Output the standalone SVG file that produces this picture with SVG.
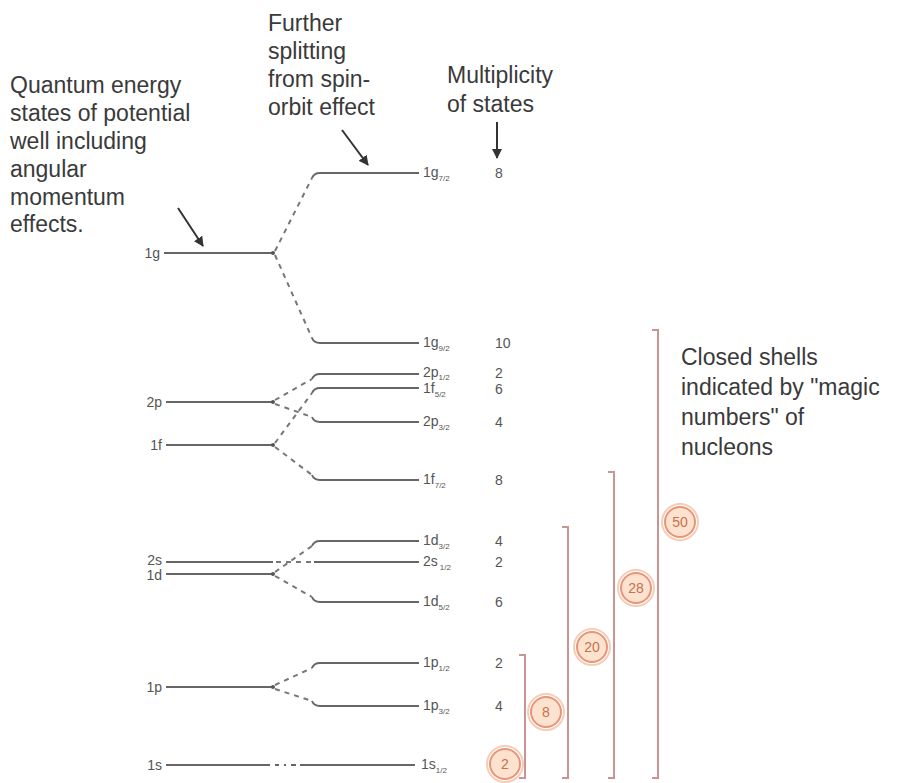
<svg xmlns="http://www.w3.org/2000/svg" width="904" height="783" viewBox="0 0 904 783">
  <style>
    .note { font-family: "Liberation Sans", Arial, sans-serif; font-size: 23px; fill: #3a3a3a; }
    .lbl { font-family: "Liberation Sans", Arial, sans-serif; font-size: 14px; fill: #555; }
    .sub { font-size: 8px; }
    .mult { font-family: "Liberation Sans", Arial, sans-serif; font-size: 14px; fill: #555; }
    .lvl { stroke: #666; stroke-width: 2; fill: none; }
    .end { fill: #555; }
    .dash { stroke: #777; stroke-width: 2; stroke-dasharray: 5 5; fill: none; }
    .shell { stroke: #c99494; stroke-width: 2; fill: none; }
    .magic .ring { fill: none; stroke: #f6cdb6; stroke-width: 2; }
    .magic .disc { fill: #fde3cf; stroke: #e6957a; stroke-width: 2; }
    .magic text { font-family: "Liberation Sans", Arial, sans-serif; font-size: 14px; fill: #c4724c; text-anchor: middle; }
    .ptr { stroke: #333; stroke-width: 2; fill: none; marker-end: url(#head); }
  </style>
  <defs>
    <marker id="head" viewBox="0 0 10 10" refX="9" refY="5" markerWidth="5" markerHeight="5" orient="auto">
      <path d="M0 0 L10 5 L0 10 z" fill="#333"/>
    </marker>
  </defs>

  <rect width="904" height="783" fill="#ffffff"/>

  <!-- explanatory notes -->
  <g id="note-left">
    <text class="note" x="10" y="93">Quantum energy</text>
    <text class="note" x="10" y="121">states of potential</text>
    <text class="note" x="10" y="149">well including</text>
    <text class="note" x="10" y="177">angular</text>
    <text class="note" x="10" y="205">momentum</text>
    <text class="note" x="10" y="232">effects.</text>
    <line class="ptr" x1="178" y1="208" x2="203" y2="246"/>
  </g>
  <g id="note-spin">
    <text class="note" x="268" y="31">Further</text>
    <text class="note" x="268" y="59">splitting</text>
    <text class="note" x="268" y="87">from spin-</text>
    <text class="note" x="268" y="115">orbit effect</text>
    <line class="ptr" x1="342" y1="130" x2="368" y2="165"/>
  </g>
  <g id="note-mult">
    <text class="note" x="447" y="83">Multiplicity</text>
    <text class="note" x="447" y="112">of states</text>
    <line class="ptr" x1="497" y1="122" x2="497" y2="158"/>
  </g>
  <g id="note-shells">
    <text class="note" x="681" y="365">Closed shells</text>
    <text class="note" x="681" y="395">indicated by "magic</text>
    <text class="note" x="681" y="425">numbers" of</text>
    <text class="note" x="681" y="455">nucleons</text>
  </g>

  <!-- unsplit levels -->
  <g id="lvl-1g"><text class="lbl" x="160" y="258" text-anchor="end">1g</text><line class="lvl" x1="164" y1="253" x2="273" y2="253"/><circle class="end" cx="273" cy="253" r="2"/></g>
  <g id="lvl-2p"><text class="lbl" x="162" y="407" text-anchor="end">2p</text><line class="lvl" x1="166" y1="402" x2="273" y2="402"/><circle class="end" cx="273" cy="402" r="2"/></g>
  <g id="lvl-1f"><text class="lbl" x="162" y="450" text-anchor="end">1f</text><line class="lvl" x1="166" y1="445" x2="273" y2="445"/><circle class="end" cx="273" cy="445" r="2"/></g>
  <g id="lvl-2s"><text class="lbl" x="162" y="565" text-anchor="end">2s</text><line class="lvl" x1="166" y1="562" x2="273" y2="562"/></g>
  <g id="lvl-1d"><text class="lbl" x="162" y="580" text-anchor="end">1d</text><line class="lvl" x1="166" y1="574" x2="273" y2="574"/><circle class="end" cx="273" cy="574" r="2"/></g>
  <g id="lvl-1p"><text class="lbl" x="162" y="692" text-anchor="end">1p</text><line class="lvl" x1="166" y1="687" x2="273" y2="687"/><circle class="end" cx="273" cy="687" r="2"/></g>
  <g id="lvl-1s"><text class="lbl" x="162" y="770" text-anchor="end">1s</text><line class="lvl" x1="166" y1="765" x2="270" y2="765"/></g>

  <!-- spin-orbit split levels -->
  <g id="lvl-1g7"><path class="lvl" d="M312 178 Q314 173 320 173 L419 173"/><text class="lbl" x="423" y="177">1g<tspan class="sub" dy="4">7/2</tspan></text><text class="mult" x="495" y="178">8</text></g>
  <g id="lvl-1g9"><path class="lvl" d="M312 338 Q314 343 320 343 L419 343"/><text class="lbl" x="423" y="347">1g<tspan class="sub" dy="4">9/2</tspan></text><text class="mult" x="495" y="348">10</text></g>
  <g id="lvl-2p1"><path class="lvl" d="M312 379 Q314 374 320 374 L419 374"/><text class="lbl" x="423" y="377">2p<tspan class="sub" dy="3">1/2</tspan></text><text class="mult" x="495" y="378">2</text></g>
  <g id="lvl-1f5"><path class="lvl" d="M312 393 Q314 388 320 388 L419 388"/><text class="lbl" x="423" y="393">1f<tspan class="sub" dy="4">5/2</tspan></text><text class="mult" x="495" y="394">6</text></g>
  <g id="lvl-2p3"><path class="lvl" d="M312 417 Q314 422 320 422 L419 422"/><text class="lbl" x="423" y="426">2p<tspan class="sub" dy="4">3/2</tspan></text><text class="mult" x="495" y="427">4</text></g>
  <g id="lvl-1f7"><path class="lvl" d="M312 475 Q314 480 320 480 L419 480"/><text class="lbl" x="423" y="484">1f<tspan class="sub" dy="4">7/2</tspan></text><text class="mult" x="495" y="485">8</text></g>
  <g id="lvl-1d3"><path class="lvl" d="M312 546 Q314 541 320 541 L419 541"/><text class="lbl" x="423" y="545">1d<tspan class="sub" dy="4">3/2</tspan></text><text class="mult" x="495" y="546">4</text></g>
  <g id="lvl-2s1"><line class="lvl" x1="314" y1="562" x2="419" y2="562"/><text class="lbl" x="423" y="566">2s<tspan class="sub" dx="2" dy="4">1/2</tspan></text><text class="mult" x="495" y="567">2</text></g>
  <g id="lvl-1d5"><path class="lvl" d="M312 597 Q314 602 320 602 L419 602"/><text class="lbl" x="423" y="606">1d<tspan class="sub" dy="4">5/2</tspan></text><text class="mult" x="495" y="607">6</text></g>
  <g id="lvl-1p1"><path class="lvl" d="M312 668 Q314 663 320 663 L419 663"/><text class="lbl" x="423" y="667">1p<tspan class="sub" dy="4">1/2</tspan></text><text class="mult" x="495" y="668">2</text></g>
  <g id="lvl-1p3"><path class="lvl" d="M312 701 Q314 706 320 706 L419 706"/><text class="lbl" x="423" y="710">1p<tspan class="sub" dy="4">3/2</tspan></text><text class="mult" x="495" y="711">4</text></g>
  <g id="lvl-1s1"><line class="lvl" x1="300" y1="765" x2="415" y2="765"/><text class="lbl" x="421" y="769">1s<tspan class="sub" dy="4">1/2</tspan></text></g>

  <!-- splitting connectors -->
  <g id="connectors">
    <line class="dash" x1="275" y1="251" x2="312" y2="178"/>
    <line class="dash" x1="275" y1="255" x2="312" y2="338"/>
    <line class="dash" x1="275" y1="400" x2="312" y2="379"/>
    <line class="dash" x1="275" y1="404" x2="312" y2="417"/>
    <line class="dash" x1="275" y1="443" x2="312" y2="393"/>
    <line class="dash" x1="275" y1="447" x2="312" y2="475"/>
    <line class="dash" x1="276" y1="562" x2="313" y2="562"/>
    <line class="dash" x1="275" y1="572" x2="312" y2="546"/>
    <line class="dash" x1="275" y1="576" x2="312" y2="597"/>
    <line class="dash" x1="275" y1="685" x2="312" y2="668"/>
    <line class="dash" x1="275" y1="689" x2="312" y2="701"/>
    <path class="lvl" d="M275 765 L279 765 M284 765 L286 765 M291 765 L296 765"/>
  </g>

  <!-- closed-shell brackets -->
  <g id="shells">
    <path class="shell" d="M519 655 L525 655 L525 778 L519 778"/>
    <path class="shell" d="M562 527 L568 527 L568 778 L562 778"/>
    <path class="shell" d="M608 472 L614 472 L614 778 L608 778"/>
    <path class="shell" d="M652 330 L658 330 L658 778 L652 778"/>
  </g>
  <g id="magic-2" class="magic"><circle class="ring" cx="505" cy="764" r="18"/><circle class="disc" cx="505" cy="764" r="15"/><text x="505" y="769">2</text></g>
  <g id="magic-8" class="magic"><circle class="ring" cx="546" cy="712" r="18"/><circle class="disc" cx="546" cy="712" r="15"/><text x="546" y="717">8</text></g>
  <g id="magic-20" class="magic"><circle class="ring" cx="592" cy="647" r="18"/><circle class="disc" cx="592" cy="647" r="15"/><text x="592" y="652">20</text></g>
  <g id="magic-28" class="magic"><circle class="ring" cx="636" cy="588" r="18"/><circle class="disc" cx="636" cy="588" r="15"/><text x="636" y="593">28</text></g>
  <g id="magic-50" class="magic"><circle class="ring" cx="680" cy="522" r="18"/><circle class="disc" cx="680" cy="522" r="15"/><text x="680" y="527">50</text></g>
</svg>
